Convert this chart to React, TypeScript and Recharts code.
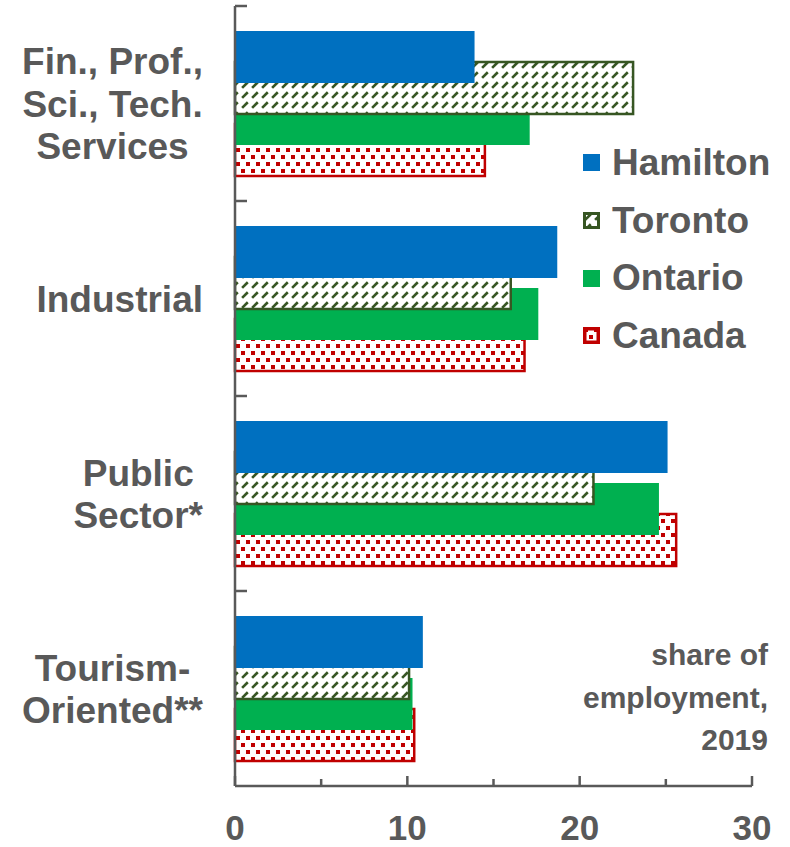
import React from "react";
import { BarChart, Bar, XAxis, YAxis } from "recharts";

const CATEGORIES = ["Fin., Prof., Sci., Tech. Services", "Industrial", "Public Sector*", "Tourism-Oriented**"];
const CATEGORY_LINES = [["Fin., Prof.,", "Sci., Tech.", "Services"], ["Industrial"], ["Public", "Sector*"], ["Tourism-", "Oriented**"]];
const HAMILTON = [13.9, 18.7, 25.1, 10.9];
const TORONTO = [23.1, 16.0, 20.8, 10.1];
const ONTARIO = [17.1, 17.6, 24.6, 10.3];
const CANADA = [14.5, 16.8, 25.6, 10.4];
const X_TICKS = [0, 5, 10, 15, 20, 25, 30];
const NOTE_LINES = ["share of", "employment,", "2019"];

const SERIES = [
  { key: "hamilton", name: "Hamilton", fill: "#0070C0", stroke: "none", sw: 0, iconSw: 0 },
  { key: "toronto", name: "Toronto", fill: "url(#torontoHatch)", stroke: "#375623", sw: 2.5, iconSw: 3 },
  { key: "ontario", name: "Ontario", fill: "#00B050", stroke: "none", sw: 0, iconSw: 0 },
  { key: "canada", name: "Canada", fill: "url(#canadaDots)", stroke: "#C00000", sw: 2.5, iconSw: 3.5 },
];

const data = CATEGORIES.map((c, i) => ({
  category: c,
  hamilton: HAMILTON[i],
  toronto: TORONTO[i],
  ontario: ONTARIO[i],
  canada: CANADA[i],
}));

const W = 790;
const H = 847;
const MARGIN = { top: 6, right: 38, bottom: 0, left: 0 };
const Y_AXIS_W = 235;
const X_AXIS_H = 61;
const BAND = (H - MARGIN.top - MARGIN.bottom - X_AXIS_H) / CATEGORIES.length;
const BAR_SIZE = 52;
const BAR_GAP = -21;
const STEP = BAR_SIZE + BAR_GAP;
const LABEL_GAP = 32;
const FONT = '"Liberation Sans", Arial, sans-serif';
const GREY = "#595959";
const FS = 37;

const ctx = typeof document !== "undefined" ? document.createElement("canvas").getContext("2d") : null;
function textWidth(s: string) {
  if (!ctx) return s.length * FS * 0.55;
  ctx.font = `bold ${FS}px "Liberation Sans"`;
  return ctx.measureText(s).width;
}

function CategoryTick(props: any) {
  const { x, y, index } = props;
  const lines = CATEGORY_LINES[index] || [String(props.payload.value)];
  const maxW = Math.max(...lines.map(textWidth));
  const cx = x - maxW / 2;
  const lineH = 42.5;
  const startY = y - ((lines.length - 1) * lineH) / 2;
  const axisX = x + LABEL_GAP;
  const edge = y - BAND / 2;
  return (
    <g>
      <line x1={axisX} x2={axisX + 12} y1={edge} y2={edge} stroke={GREY} strokeWidth={2.5} />
      <text textAnchor="middle" fontFamily={FONT} fontWeight="bold" fontSize={FS} fill={GREY}>
        {lines.map((l, i) => (
          <tspan key={i} x={cx} y={startY + i * lineH} dy="0.36em">
            {l}
          </tspan>
        ))}
      </text>
    </g>
  );
}

function ValueTick(props: any) {
  const { x, y, payload } = props;
  const v = payload.value;
  const major = v % 10 === 0;
  return (
    <g>
      <line x1={x} x2={x} y1={y} y2={y - (major ? 10 : 7)} stroke={GREY} strokeWidth={2.5} />
      {major && (
        <text x={x} y={y + 41} dy="0.36em" textAnchor="middle" fontFamily={FONT} fontWeight="bold" fontSize={35} fill={GREY}>
          {v}
        </text>
      )}
    </g>
  );
}

// bars are rendered last-to-first so Hamilton sits on top; shift mirrors each back to its slot
const makeShape = (k: number, s: any) => (p: any) => (
  <rect
    x={p.x}
    y={p.y + (3 - 2 * k) * STEP}
    width={Math.max(p.width, 0)}
    height={p.height}
    fill={s.fill}
    stroke={s.stroke}
    strokeWidth={s.sw}
  />
);

function LegendIcon({ s }: { s: any }) {
  const w = s.iconSw;
  return (
    <svg width={17} height={17} style={{ display: "block" }}>
      <rect x={w / 2} y={w / 2} width={17 - w} height={17 - w} fill={s.fill} stroke={s.stroke} strokeWidth={w} />
    </svg>
  );
}

export default function App() {
  const rendered = [...SERIES].reverse();
  return (
    <div style={{ position: "absolute", left: 0, top: 0, width: W, height: H, background: "#fff" }}>
      <BarChart width={W} height={H} data={data} layout="vertical" margin={MARGIN} barSize={BAR_SIZE} barGap={BAR_GAP}>
        <defs>
          <pattern id="torontoHatch" width={10} height={10} patternUnits="userSpaceOnUse">
            <rect width={10} height={10} fill="#fff" />
            <path d="M0,10 L10,0" stroke="#375623" strokeWidth={2.6} strokeDasharray="8 6.14" strokeDashoffset={-3} />
          </pattern>
          <pattern id="canadaDots" width={10} height={14} patternUnits="userSpaceOnUse">
            <rect width={10} height={14} fill="#fff" />
            <rect x={1} y={1} width={4} height={4} fill="#C00000" />
            <rect x={6} y={8} width={4} height={4} fill="#C00000" />
          </pattern>
        </defs>
        <XAxis
          type="number"
          domain={[0, 30]}
          ticks={X_TICKS}
          interval={0}
          height={X_AXIS_H}
          tickSize={0}
          tickMargin={0}
          tickLine={false}
          axisLine={{ stroke: GREY, strokeWidth: 2.5 }}
          tick={<ValueTick />}
        />
        <YAxis
          type="category"
          dataKey="category"
          width={Y_AXIS_W}
          interval={0}
          tickSize={0}
          tickMargin={LABEL_GAP}
          tickLine={false}
          axisLine={{ stroke: GREY, strokeWidth: 2.5 }}
          tick={<CategoryTick />}
        />
        {rendered.map((s, k) => (
          <Bar key={s.key} dataKey={s.key} name={s.name} isAnimationActive={false} shape={makeShape(k, s)} />
        ))}
      </BarChart>

      <div style={{ position: "absolute", left: 583, top: 134, fontFamily: FONT, fontWeight: "bold", fontSize: FS, color: GREY }}>
        {SERIES.map((s) => (
          <div key={s.key} style={{ display: "flex", alignItems: "center", height: 57.7 }}>
            <LegendIcon s={s} />
            <span style={{ marginLeft: 12 }}>{s.name}</span>
          </div>
        ))}
      </div>

      <div
        style={{
          position: "absolute",
          right: W - 768,
          top: 634,
          textAlign: "right",
          fontFamily: FONT,
          fontWeight: "bold",
          fontSize: 30,
          lineHeight: "42.5px",
          color: GREY,
        }}
      >
        {NOTE_LINES.map((l) => (
          <div key={l}>{l}</div>
        ))}
      </div>
    </div>
  );
}
